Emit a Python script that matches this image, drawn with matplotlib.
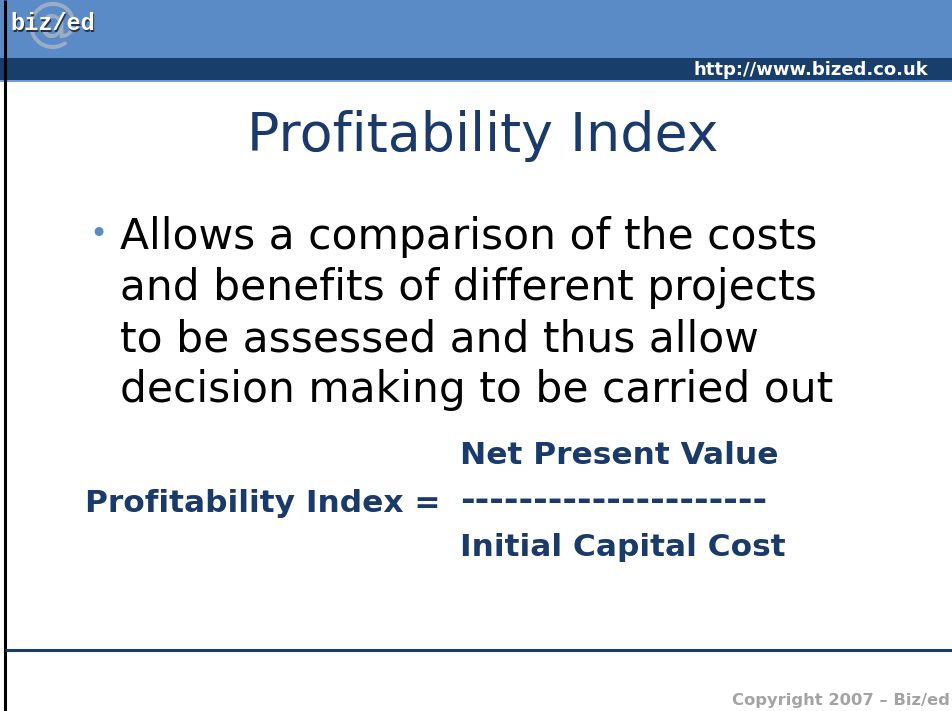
import matplotlib
matplotlib.use("Agg")
import matplotlib.pyplot as plt
from matplotlib.patches import Rectangle

W, H = 953, 711

title = "Profitability Index"
bullet_lines = ["Allows a comparison of the costs",
                "and benefits of different projects",
                "to be assessed and thus allow",
                "decision making to be carried out"]
formula_top = "Net Present Value"
formula_left = "Profitability Index ="
formula_bar = "---------------------"
formula_bottom = "Initial Capital Cost"
url = "http://www.bized.co.uk"
copyright_txt = "Copyright 2007 \u2013 Biz/ed"

light_blue = "#5b8bc6"
dark_blue = "#183e6c"
text_blue = "#1a3a6b"

plt.rcParams['font.family'] = ['DejaVu Sans']
fig = plt.figure(figsize=(W / 100, H / 100), dpi=100)
ax = fig.add_axes([0, 0, 1, 1])
ax.set_xlim(0, W)
ax.set_ylim(H, 0)
ax.axis("off")

# header bands
ax.add_patch(Rectangle((0, 0), W, 58, color=light_blue, lw=0))
ax.add_patch(Rectangle((0, 58), W, 22, color=dark_blue, lw=0))
ax.add_patch(Rectangle((0, 80), W, 2, color="#6f9cd6", lw=0))
# left border
ax.plot([5, 5], [0, H], color="black", lw=2.2, solid_capstyle="butt")
# bottom rule
ax.plot([5, W], [650, 650], color=dark_blue, lw=2.2, solid_capstyle="butt")

# logo: grey @ behind white "biz/ed"
ax.text(52, 25, "@", fontsize=38, color="#b4bcc8", ha="center", va="center", alpha=0.7)
ax.text(11, 25, "biz/ed", fontsize=17, color="#2a3344", fontweight="bold",
        family="Liberation Mono", ha="left", va="center")
ax.text(10, 24, "biz/ed", fontsize=17, color="white", fontweight="bold",
        family="Liberation Mono", ha="left", va="center")

ax.text(928, 70, url, fontsize=13, color="white", fontweight="bold",
        ha="right", va="center")

ax.text(483, 136, title, fontsize=38.8, color=text_blue, ha="center", va="center")

for i, line in enumerate(bullet_lines):
    y = 237 + i * 51
    if i == 0:
        ax.text(89, y - 2, "\u2022", fontsize=22, color=light_blue, ha="left", va="center")
    ax.text(120, y, line, fontsize=30.5, color="black", ha="left", va="center")

fs = 22.5
ax.text(460, 455, formula_top, fontsize=fs, color=text_blue, fontweight="bold",
        ha="left", va="center")
ax.text(85, 503, formula_left, fontsize=fs, color=text_blue, fontweight="bold",
        ha="left", va="center")
ax.text(460, 501, formula_bar, fontsize=25.5, color=text_blue, fontweight="bold",
        ha="left", va="center")
ax.text(460, 548, formula_bottom, fontsize=fs, color=text_blue, fontweight="bold",
        ha="left", va="center")

ax.text(950, 700, copyright_txt, fontsize=11.8, color="#a3a3a3", fontweight="bold",
        ha="right", va="center")

fig.savefig("out.png", dpi=100)
